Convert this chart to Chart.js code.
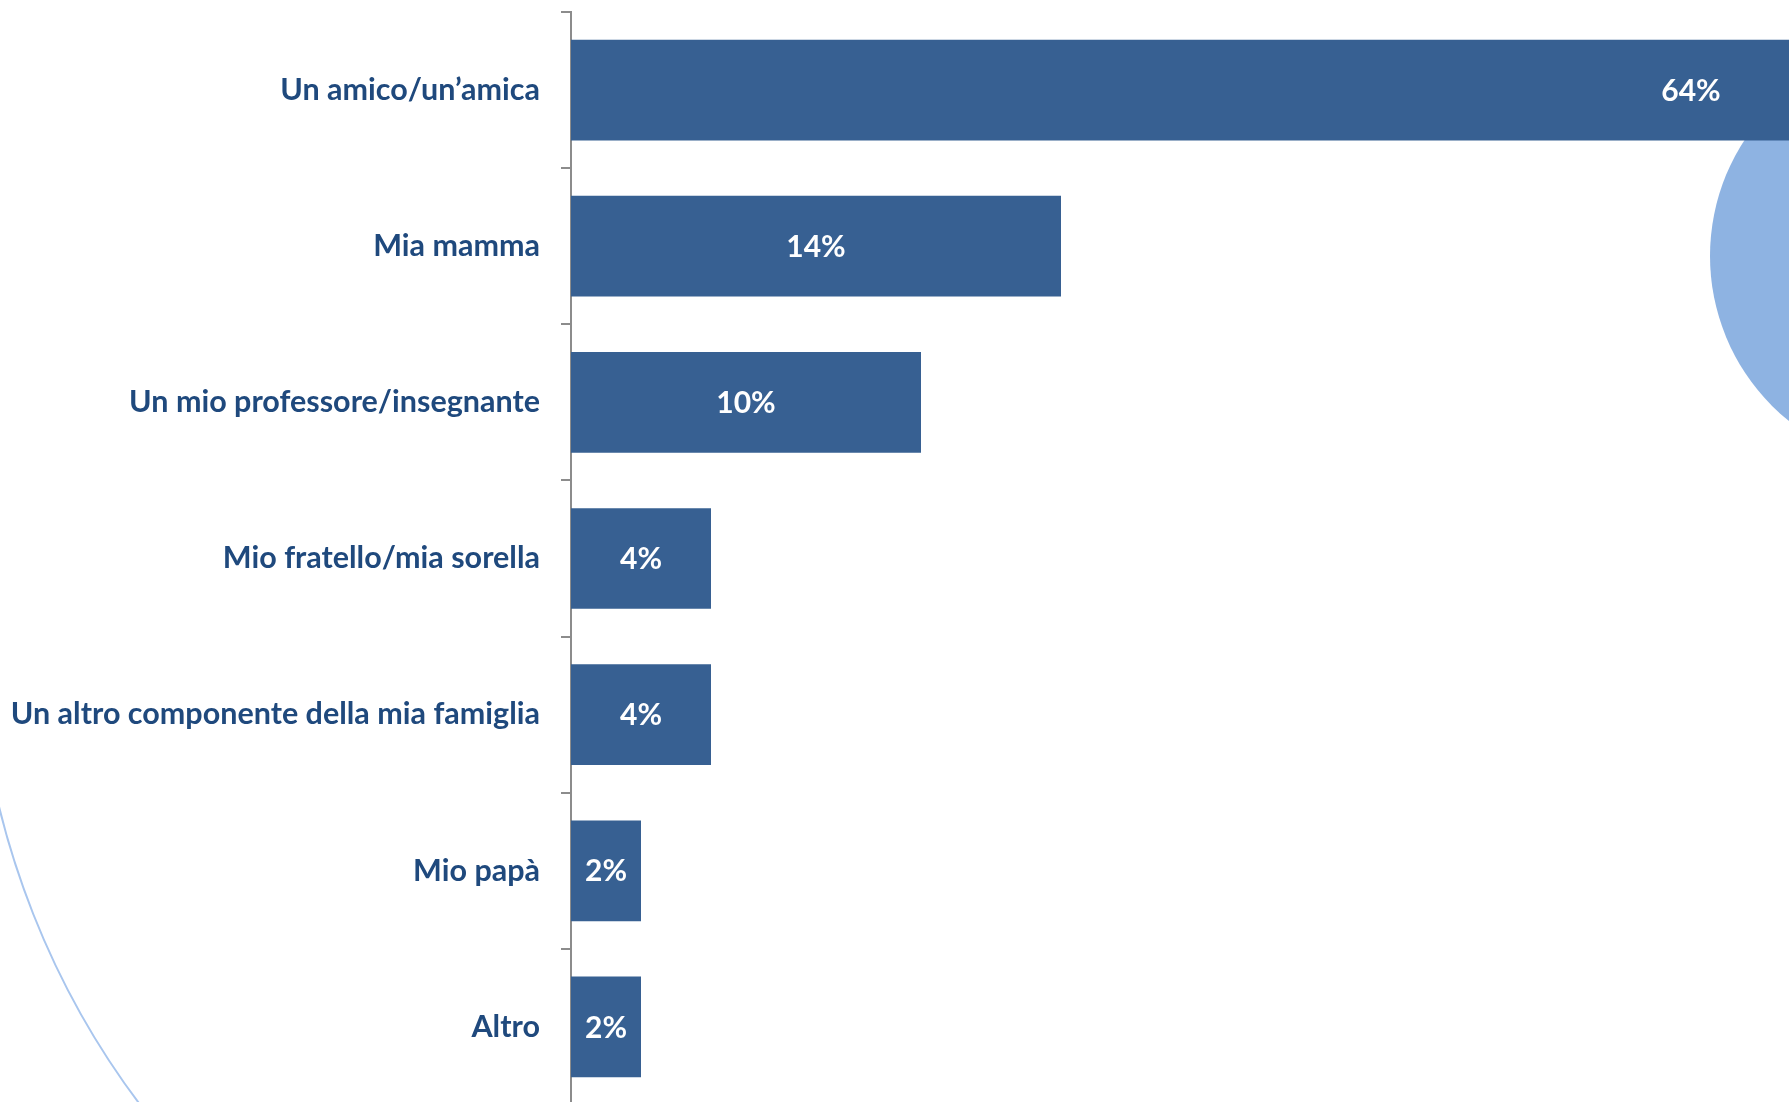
<!DOCTYPE html>
<html>
<head>
<meta charset="utf-8">
<script src="https://cdn.jsdelivr.net/npm/chart.js@4"></script>
<style>
  html, body { margin: 0; padding: 0; background: #fff; overflow: hidden; }
  #wrap { width: 1789px; height: 1102px; overflow: hidden; }
  #box { width: 1789px; height: 1105px; position: relative; }
</style>
</head>
<body>
<div id="wrap"><div id="box"><canvas id="who-chart"></canvas></div></div>
<script>
// Data
const categories = [
  'Un amico/un\u2019amica',
  'Mia mamma',
  'Un mio professore/insegnante',
  'Mio fratello/mia sorella',
  'Un altro componente della mia famiglia',
  'Mio pap\u00e0',
  'Altro'
];
const shares = [64, 14, 10, 4, 4, 2, 2];
const visibleMax = 34.8; // the slide crops the longest bar

const barColor = '#376092';
const textColor = '#1F497D';
const labelFont = 'bold 30px Lato';

// slide decorations: light blue disc on the right, thin arc bottom-left
const decoPlugin = {
  id: 'deco',
  beforeDraw(chart) {
    const ctx = chart.ctx;
    ctx.save();
    ctx.beginPath();
    ctx.rect(0, 760, 320, 360);
    ctx.clip();
    ctx.beginPath();
    ctx.arc(791, 614, 815, 0, Math.PI * 2);
    ctx.strokeStyle = '#A9C6EE';
    ctx.lineWidth = 2;
    ctx.stroke();
    ctx.restore();
  },
  beforeDatasetsDraw(chart) {
    const ctx = chart.ctx;
    ctx.save();
    ctx.beginPath();
    ctx.arc(1922, 256, 212, 0, Math.PI * 2);
    ctx.fillStyle = '#8EB3E2';
    ctx.fill();
    ctx.restore();
  }
};

// value labels centred on each bar
const valueLabels = {
  id: 'valueLabels',
  afterDatasetsDraw(chart) {
    const ctx = chart.ctx;
    const xs = chart.scales.x;
    const meta = chart.getDatasetMeta(0);
    ctx.save();
    ctx.fillStyle = '#fff';
    ctx.font = labelFont;
    ctx.textAlign = 'center';
    ctx.textBaseline = 'middle';
    meta.data.forEach((bar, i) => {
      const v = shares[i];
      ctx.fillText(v + '%', xs.getPixelForValue(v / 2), bar.y + 1);
    });
    ctx.restore();
  }
};

const ctx = document.getElementById('who-chart');
new Chart(ctx, {
  type: 'bar',
  data: {
    labels: categories,
    datasets: [{
      data: shares,
      backgroundColor: barColor,
      categoryPercentage: 1,
      barPercentage: 0.645
    }]
  },
  options: {
    indexAxis: 'y',
    responsive: true,
    maintainAspectRatio: false,
    animation: false,
    layout: { padding: { top: 12, right: 0, bottom: 0, left: 0 } },
    plugins: {
      legend: { display: false },
      tooltip: { enabled: false }
    },
    scales: {
      x: {
        display: false,
        min: 0,
        max: visibleMax
      },
      y: {
        afterFit(scale) {
          scale.width = 571;
          scale.paddingTop = 0;
          scale.paddingBottom = 0;
        },
        border: { display: true, color: '#8C8C8C', width: 2 },
        grid: {
          offset: true,
          drawOnChartArea: false,
          drawTicks: true,
          tickLength: 10,
          color: '#8C8C8C',
          lineWidth: 2
        },
        ticks: {
          color: textColor,
          font: { family: 'Lato', size: 30.5, weight: 'bold' },
          padding: 21
        }
      }
    }
  },
  plugins: [decoPlugin, valueLabels]
});
</script>
</body>
</html>
